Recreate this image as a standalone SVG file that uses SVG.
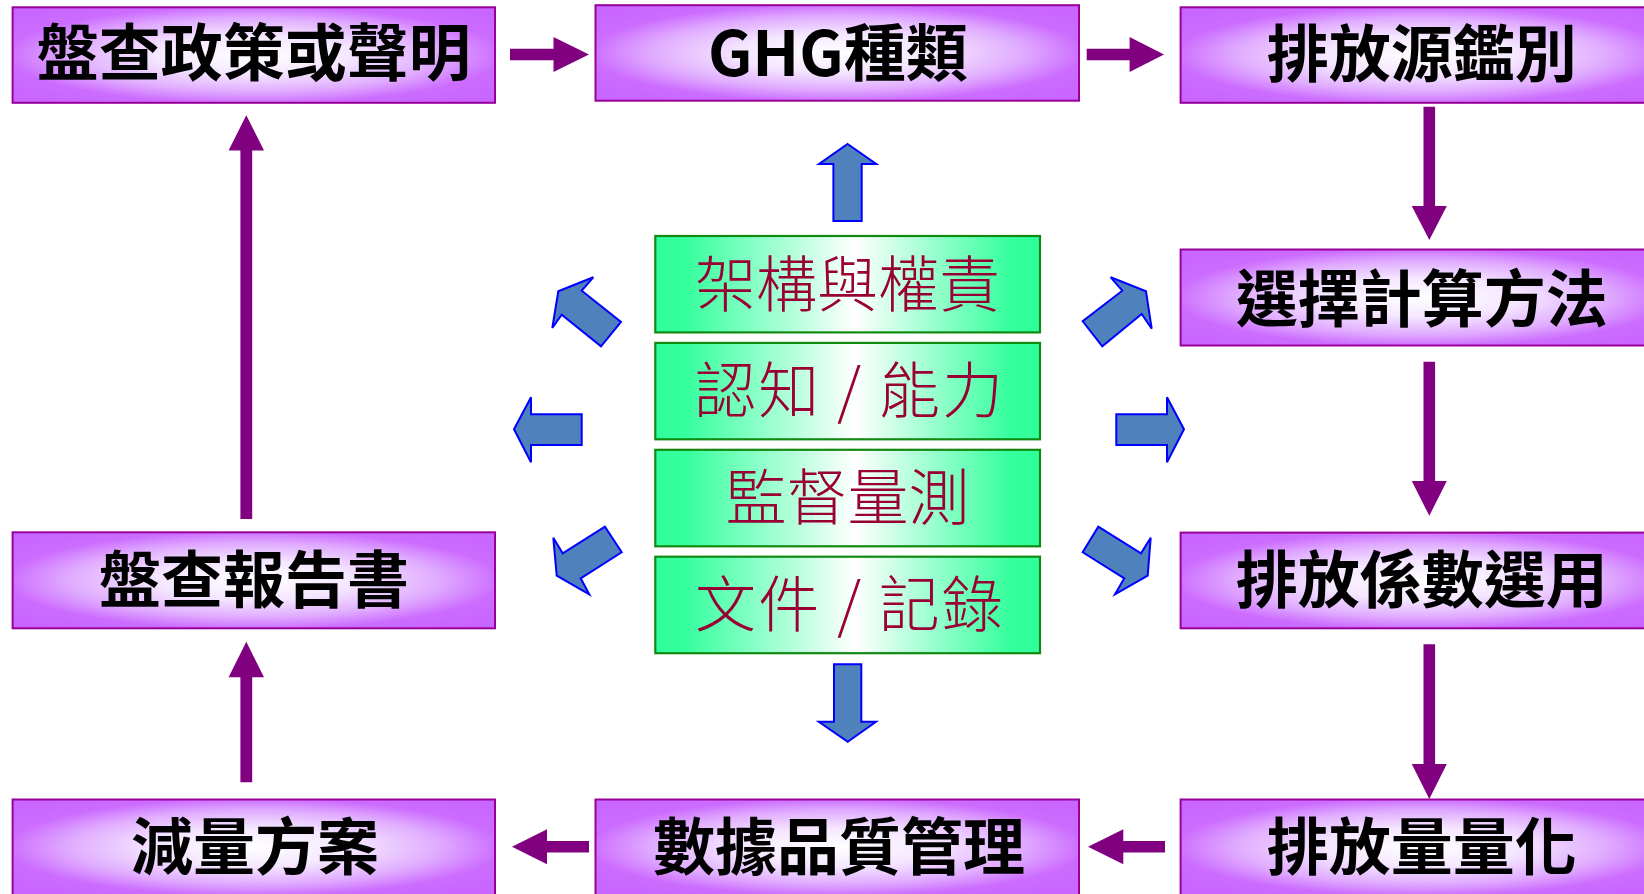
<svg xmlns="http://www.w3.org/2000/svg" width="1644" height="894" viewBox="0 0 1644 894">
  <defs>
    <radialGradient id="pg" cx="0.5" cy="0.5" r="0.64" gradientUnits="objectBoundingBox">
      <stop offset="0" stop-color="#FFFFFF"/>
      <stop offset="0.32" stop-color="#F4E6FF"/>
      <stop offset="0.6" stop-color="#E0ABFF"/>
      <stop offset="0.8" stop-color="#CC6CFF"/>
      <stop offset="1" stop-color="#C866FF"/>
    </radialGradient>
    <linearGradient id="gg" x1="0" y1="0" x2="1" y2="0">
      <stop offset="0" stop-color="#2EFF9A"/>
      <stop offset="0.08" stop-color="#36FF9E"/>
      <stop offset="0.52" stop-color="#FFFFFF"/>
      <stop offset="0.92" stop-color="#36FF9E"/>
      <stop offset="1" stop-color="#2EFF9A"/>
    </linearGradient>
  </defs>
  <style>
    .pbox { fill: url(#pg); stroke: #990099; stroke-width: 2; }
    .gbox { fill: url(#gg); stroke: #128A12; stroke-width: 2.2; }
    .ptxt { font-family: "Noto Sans CJK TC", "Noto Sans CJK SC", sans-serif; font-size: 62px; font-weight: bold; fill: #000000; text-anchor: middle; }
    .gtxt { font-family: "Noto Sans CJK TC", "Noto Sans CJK SC", sans-serif; font-size: 61px; font-weight: 300; fill: #990033; text-anchor: middle; }
    .parr { fill: #800080; stroke: none; }
    .barr { fill: #4F81BD; stroke: #0000FF; stroke-width: 2; stroke-linejoin: miter; }
  </style>
  <rect x="0" y="0" width="1644" height="894" fill="#FFFFFF"/>

  <g id="connectors">
    <polygon class="parr" points="510,48.7 553.5,48.7 553.5,37 589,54.5 553.5,72 553.5,60.3 510,60.3"/>
    <polygon class="parr" points="1086.7,48.7 1129.6,48.7 1129.6,37 1164,54.5 1129.6,72 1129.6,60.3 1086.7,60.3"/>
    <polygon class="parr" points="1423.5,106.7 1435.1,106.7 1435.1,206 1446.8,206 1429.3,240 1411.8,206 1423.5,206"/>
    <polygon class="parr" points="1423.5,361.7 1435.1,361.7 1435.1,481 1446.8,481 1429.3,515.8 1411.8,481 1423.5,481"/>
    <polygon class="parr" points="1423.5,644.3 1435.1,644.3 1435.1,764 1446.8,764 1429.3,799 1411.8,764 1423.5,764"/>
    <polygon class="parr" points="1165,840.9 1123.3,840.9 1123.3,829.2 1088,846.7 1123.3,864.2 1123.3,852.5 1165,852.5"/>
    <polygon class="parr" points="589,840.9 547,840.9 547,829.2 512,846.7 547,864.2 547,852.5 589,852.5"/>
    <polygon class="parr" points="240.4,782.3 252.2,782.3 252.2,677.3 264,677.3 246.3,641.7 228.6,677.3 240.4,677.3"/>
    <polygon class="parr" points="240.4,519 252.2,519 252.2,150.5 264,150.5 246.3,115.3 228.6,150.5 240.4,150.5"/>

    <polygon class="barr" points="847.6,144 876.3,164 861.7,164 861.7,221 833.4,221 833.4,164 819,164"/>
    <polygon class="barr" points="847.8,741.7 876,721.7 861.3,721.7 861.3,664.3 834,664.3 834,721.7 818.8,721.7"/>
    <polygon class="barr" points="514,429.3 531,397.3 531,414.3 581.7,414.3 581.7,445 531,445 531,462.3"/>
    <polygon class="barr" points="1184,429.3 1167,397.3 1167,414.3 1116.3,414.3 1116.3,445 1167,445 1167,462.3"/>
    <polygon class="barr" points="558.3,291.3 593.3,277.3 581.7,290.7 621,322 601,346.3 561.7,314.7 552.3,328"/>
    <polygon class="barr" points="1110.7,277.3 1146,291.3 1151.7,328.7 1141.7,314 1102.3,346.3 1082.7,321.3 1122.3,290.7"/>
    <polygon class="barr" points="605,526.7 621.7,552.3 580.7,578.3 589.3,594.3 556.7,575.7 553.3,537.7 562.7,553.3"/>
    <polygon class="barr" points="1098.3,526.7 1141,553.3 1150.7,537.7 1147.7,575.7 1115,594.3 1124.3,578.3 1082.7,552.3"/>
  </g>

  <g id="n-policy">
    <rect class="pbox" x="12.6" y="7.3" width="482.4" height="95.5"/>
    <text class="ptxt" x="253.8" y="76">盤查政策或聲明</text>
  </g>
  <g id="n-ghg">
    <rect class="pbox" x="595.5" y="5.2" width="483.5" height="95.5"/>
    <text class="ptxt" x="837.8" y="75.6">GHG種類</text>
  </g>
  <g id="n-source">
    <rect class="pbox" x="1180.6" y="7.3" width="482.4" height="95.5"/>
    <text class="ptxt" x="1421.8" y="76.5">排放源鑑別</text>
  </g>
  <g id="n-method">
    <rect class="pbox" x="1180.6" y="249.5" width="482.4" height="96"/>
    <text class="ptxt" x="1421.8" y="322">選擇計算方法</text>
  </g>
  <g id="n-factor">
    <rect class="pbox" x="1180.6" y="532.6" width="482.4" height="95.7"/>
    <text class="ptxt" x="1421.8" y="602.5">排放係數選用</text>
  </g>
  <g id="n-quant">
    <rect class="pbox" x="1180.6" y="799.5" width="482.4" height="95.5"/>
    <text class="ptxt" x="1421.8" y="870">排放量量化</text>
  </g>
  <g id="n-quality">
    <rect class="pbox" x="595.5" y="799.5" width="483.5" height="95.5"/>
    <text class="ptxt" x="838.9" y="870">數據品質管理</text>
  </g>
  <g id="n-reduce">
    <rect class="pbox" x="12.6" y="799.5" width="482.4" height="95.5"/>
    <text class="ptxt" x="255" y="870">減量方案</text>
  </g>
  <g id="n-report">
    <rect class="pbox" x="12.6" y="532.3" width="482.4" height="96"/>
    <text class="ptxt" x="254" y="602.5">盤查報告書</text>
  </g>

  <g id="g-structure">
    <rect class="gbox" x="655.3" y="236" width="384.7" height="96.4"/>
    <text class="gtxt" x="847.6" y="306.5">架構與權責</text>
  </g>
  <g id="g-awareness">
    <rect class="gbox" x="655.3" y="342.9" width="384.7" height="96.4"/>
    <text class="gtxt" x="849" y="413" textLength="308" lengthAdjust="spacing">認知 / 能力</text>
  </g>
  <g id="g-monitor">
    <rect class="gbox" x="655.3" y="449.8" width="384.7" height="96.5"/>
    <text class="gtxt" x="847.6" y="520">監督量測</text>
  </g>
  <g id="g-records">
    <rect class="gbox" x="655.3" y="556.7" width="384.7" height="96.5"/>
    <text class="gtxt" x="849" y="627" textLength="308" lengthAdjust="spacing">文件 / 記錄</text>
  </g>
</svg>
